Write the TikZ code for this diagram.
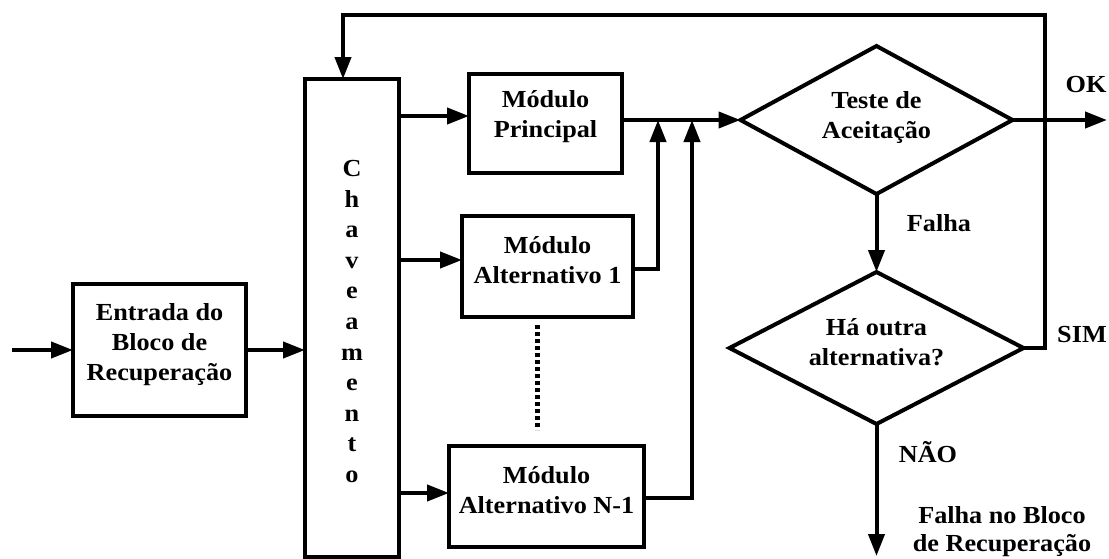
\documentclass[tikz,border=0pt]{standalone}
\usepackage{fontspec}
\setmainfont[FakeStretch=1.07]{Liberation Serif}
\usetikzlibrary{shapes.geometric,arrows.meta}
\begin{document}
\begin{tikzpicture}[x=1pt,y=-1pt,
  line width=4pt,
  txt/.style={font=\fontsize{24.5}{30}\selectfont\bfseries},
  blk/.style={draw, rectangle, inner sep=0pt, outer sep=0pt},
  dec/.style={draw, diamond, inner sep=0pt, outer sep=0pt},
  lbl/.style={txt, align=center, inner sep=0pt},
  arr/.style={-{Triangle[length=22pt,width=16pt]}},
]
\useasboundingbox (0,0) rectangle (1109,558);

% blocks
\node[blk, minimum width=173pt, minimum height=132pt] (ent) at (159.5,350) {};
\node[lbl] (ent-t) at (159.5,345) {Entrada do\\Bloco de\\Recuperação};

\node[blk, minimum width=94pt, minimum height=478pt] (chav) at (352,318) {};
\node[lbl, font=\fontsize{24.5}{30.6}\selectfont\bfseries] (chav-t) at (352,321.5)
  {C\\h\\a\\v\\e\\a\\m\\e\\n\\t\\o};

\node[blk, minimum width=153pt, minimum height=99pt] (prin) at (545.5,123.5) {};
\node[lbl] (prin-t) at (545.5,116.5) {Módulo\\Principal};

\node[blk, minimum width=171pt, minimum height=101pt] (alt1) at (547.5,266.5) {};
\node[lbl] (alt1-t) at (547.5,260) {Módulo\\Alternativo 1};

\node[blk, minimum width=195pt, minimum height=101pt] (altn) at (546.5,496.5) {};
\node[lbl] (altn-t) at (546.5,490) {Módulo\\Alternativo N-1};

% decisions
\node[dec, minimum width=272pt, minimum height=148pt] (d1) at (876.5,120) {};
\node[lbl] (d1-t) at (876.5,118) {Teste de\\Aceitação};

\node[dec, minimum width=294pt, minimum height=152pt] (d2) at (876.5,348) {};
\node[lbl] (d2-t) at (876.5,342) {Há outra\\alternativa?};

% labels
\node[lbl] (lfalha) at (939,223) {Falha};
\node[lbl] (lnao) at (928,452) {NÃO};
\node[lbl] (lok) at (1086,85) {OK};
\node[lbl] (lsim) at (1082,335) {SIM};
\node[lbl, font=\fontsize{24.5}{28}\selectfont\bfseries] (lfim) at (1002,532)
  {Falha no Bloco\\de Recuperação};

% helper coordinates
\coordinate (in) at (12,350);
\coordinate (r1) at (0,116);
\coordinate (r2) at (0,260);
\coordinate (r3) at (0,493);
\coordinate (j1) at (658,269);
\coordinate (j2) at (692,498);
\coordinate (okend) at (1107,120);
\coordinate (fimend) at (876.5,556);
\coordinate (fb1) at (1045,348);
\coordinate (fb2) at (343,15);
\coordinate (dt) at (537,325);
\coordinate (db) at (537,430);

% connectors
\draw[arr] (in) -- (ent.west);
\draw[arr] (ent.east) -- (ent.east -| chav.west);
\draw[arr] (chav.east |- r1) -- (prin.west |- r1);
\draw[arr] (chav.east |- r2) -- (alt1.west |- r2);
\draw[arr] (chav.east |- r3) -- (altn.west |- r3);

\draw[arr] (prin.east |- d1.west) -- (d1.west);
\draw[arr] (alt1.east |- j1) -- (j1) -- (j1 |- d1.west);
\draw[arr] (altn.east |- j2) -- (j2) -- (j2 |- d1.west);

\draw[arr] (d1.east) -- (okend);
\draw[arr] (d1.south) -- (d2.north);
\draw[arr] (d2.south) -- (fimend);
\draw[arr] (d2.east) -- (fb1) -- (fb1 |- fb2) -- (fb2) -- (fb2 |- chav.north);

\draw[line width=5pt, dash pattern=on 4pt off 3pt] (dt) -- (db);
\end{tikzpicture}
\end{document}
